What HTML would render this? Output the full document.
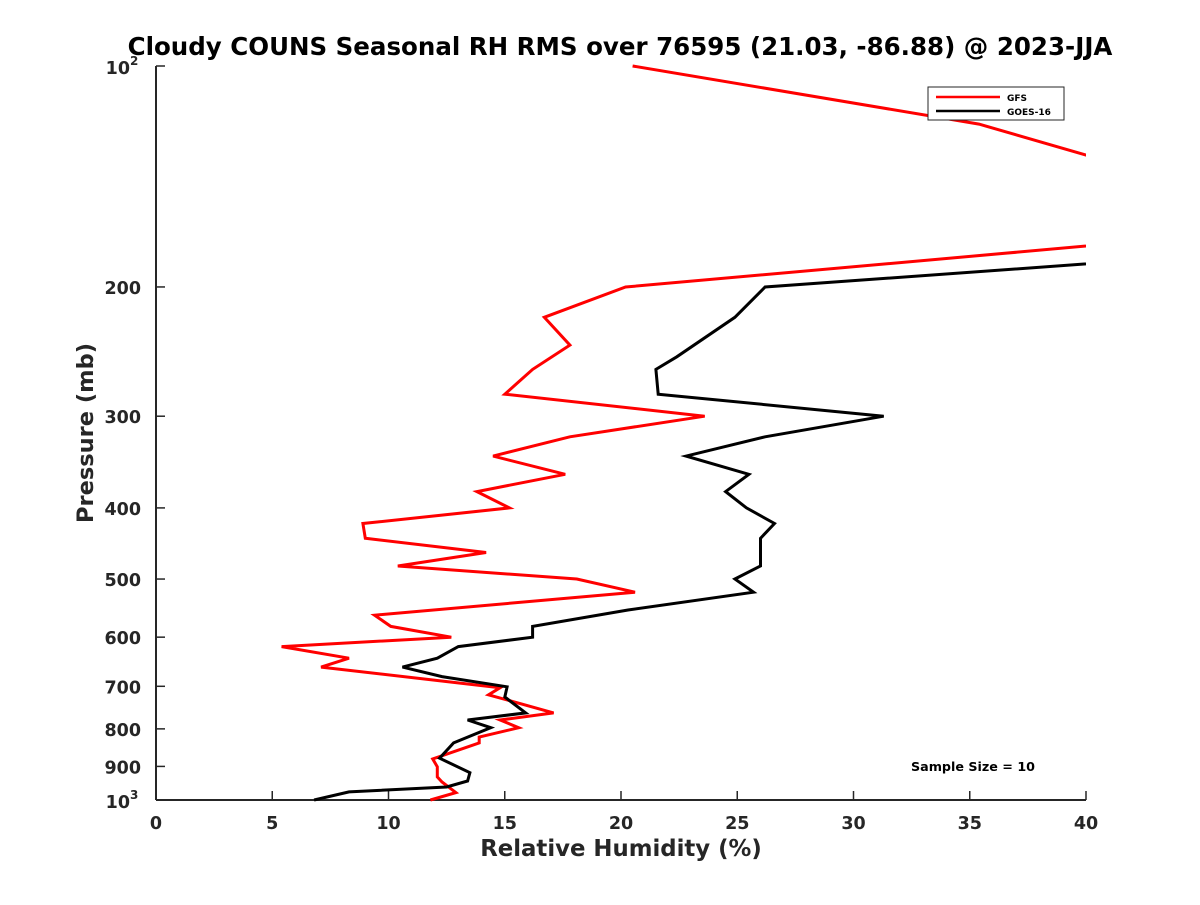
<!DOCTYPE html>
<html><head><meta charset="utf-8"><style>
body{margin:0;background:#fff}
svg text{font-family:"DejaVu Sans","Liberation Sans",sans-serif;font-weight:bold;fill:#262626}
</style></head><body>
<svg id="chart" width="1200" height="900" viewBox="0 0 1200 900" xmlns="http://www.w3.org/2000/svg">
<rect width="1200" height="900" fill="#fff"/>
<defs><clipPath id="clip"><rect x="150" y="60" width="936" height="746"/></clipPath></defs>
<text x="620" y="55" text-anchor="middle" font-size="24.5" style="fill:#000">Cloudy COUNS Seasonal RH RMS over 76595 (21.03, -86.88) @ 2023-JJA</text>
<g id="axes"></g>
<g id="series" clip-path="url(#clip)"></g>
<g>
<rect x="928" y="87" width="136" height="33" fill="#fff" stroke="#262626" stroke-width="1"/>
<line x1="936" y1="97" x2="1000" y2="97" stroke="#f00" stroke-width="2.5"/>
<text x="1007" y="101" font-size="9" style="fill:#000">GFS</text>
<line x1="936" y1="111" x2="1000" y2="111" stroke="#000" stroke-width="2.5"/>
<text x="1007" y="115" font-size="9" style="fill:#000">GOES-16</text>
</g>
<text x="911" y="771" font-size="12.7" style="fill:#000">Sample Size = 10</text>
<text x="621" y="856" text-anchor="middle" font-size="22.8">Relative Humidity (%)</text>
<text transform="translate(93,433) rotate(-90)" text-anchor="middle" font-size="22.5">Pressure (mb)</text>
</svg>
<script>
const xTicks=[0,5,10,15,20,25,30,35,40];
const yTicks=[200,300,400,500,600,700,800,900];
const gfsP=[100,120,150,170,200,220,240,259,280,300,320,340,360,380,400,420,440,460,480,500,521,560,580,600,618,641,659,703,719,761,778,797,821,836,879,901,930,945,977,1000];
const gfsRH=[20.5,35.4,46,45.3,20.2,16.7,17.8,16.2,15.0,23.6,17.8,14.5,17.6,13.8,15.2,8.9,9.0,14.2,10.4,18.1,20.6,9.4,10.1,12.7,5.4,8.3,7.1,14.8,14.3,17.1,14.8,15.6,13.9,13.9,11.9,12.1,12.1,12.3,12.9,11.8];
const goesP=[180,200,220,249,259,280,300,320,340,360,380,400,420,440,480,500,521,551,580,600,618,641,659,679,701,724,761,778,797,836,877,918,942,960,975,1000];
const goesRH=[46.3,26.2,24.9,22.4,21.5,21.6,31.3,26.2,22.8,25.5,24.5,25.4,26.6,26.0,26.0,24.9,25.7,20.3,16.2,16.2,13.0,12.1,10.6,12.3,15.1,15.0,15.9,13.4,14.4,12.8,12.2,13.5,13.4,12.5,8.3,6.8];
const X0=156,X1=1086,Y0=66,Y1=800;
const xs=v=>X0+(v-0)/(40-0)*(X1-X0);
const ys=p=>Y0+(Math.log10(p)-2)*(Y1-Y0);
const NS="http://www.w3.org/2000/svg";
const axes=document.getElementById('axes'),series=document.getElementById('series');
function mk(t,a,parent){const e=document.createElementNS(NS,t);for(const k in a)e.setAttribute(k,a[k]);parent.appendChild(e);return e;}
let ax=mk('line',{x1:X0,y1:Y1,x2:X1,y2:Y1,stroke:'#262626','stroke-width':2},axes);


let ay=mk('line',{x1:X0,y1:Y0,x2:X0,y2:Y1,stroke:'#262626','stroke-width':2},axes);


xTicks.forEach(v=>{const x=xs(v);
 mk('line',{x1:x,y1:Y1,x2:x,y2:Y1-9,stroke:'#262626','stroke-width':1.5},axes);
 const t=mk('text',{x:x,y:829,'text-anchor':'middle','font-size':17.5},axes);t.textContent=v;
 
 });
yTicks.forEach(p=>{const y=ys(p);
 mk('line',{x1:X0,y1:y,x2:X0+9,y2:y,stroke:'#262626','stroke-width':1.5},axes);
 const t=mk('text',{x:X0-15,y:y+7,'text-anchor':'end','font-size':17.5},axes);t.textContent=p;
 
 });
[[100,'2'],[1000,'3']].forEach(([p,e])=>{const y=ys(p);
 mk('line',{x1:X0,y1:y,x2:X0+9,y2:y,stroke:'#262626','stroke-width':1.5},axes);
 const t=mk('text',{x:X0-26,y:y+8,'text-anchor':'end','font-size':17.5},axes);t.textContent='10';
 
 
 const s=mk('text',{x:X0-26,y:y-1,'font-size':12},axes);s.textContent=e;
 
 });
function line(P,R,c,name){const pts=P.map((p,i)=>xs(R[i]).toFixed(1)+','+ys(p).toFixed(1)).join(' ');
 const l=mk('polyline',{points:pts,fill:'none',stroke:c,'stroke-width':3,'stroke-linejoin':'miter'},series);
 
 }
line(gfsP,gfsRH,'#f00','gfs-line');
line(goesP,goesRH,'#000','goes16-line');
</script>
</body></html>
